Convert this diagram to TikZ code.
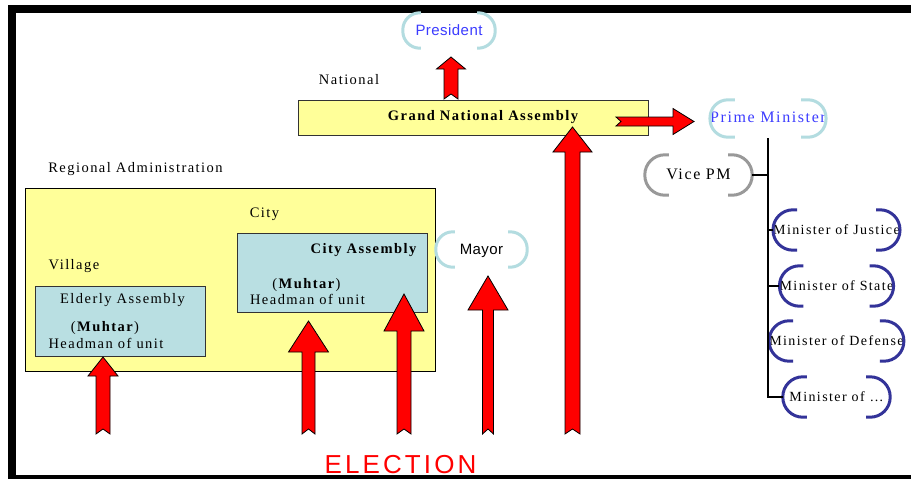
\documentclass[tikz,border=0pt]{standalone}
\usepackage{fontspec}
\setmainfont{Liberation Serif}
\newfontfamily\tnr[LetterSpace=10]{Liberation Serif}
\newfontfamily\ars[LetterSpace=3]{Liberation Sans}
\newfontfamily\arel[LetterSpace=12]{Liberation Sans}
\usetikzlibrary{calc}
\definecolor{yel}{HTML}{FFFF99}
\definecolor{cyanbox}{HTML}{B9DFE2}
\definecolor{lbl}{HTML}{B3DCE0}
\definecolor{gry}{HTML}{999999}
\definecolor{dbl}{HTML}{333399}
\definecolor{txtblue}{HTML}{3C3CFF}
\definecolor{arrred}{HTML}{FF0000}
\tikzset{
  plain/.style={inner sep=0pt, text height=11pt, text depth=3pt, font=\tnr\fontsize{14.5}{16}\selectfont},
  boldtxt/.style={plain, font=\tnr\bfseries\fontsize{14.5}{16}\selectfont},
  sanstxt/.style={inner sep=0pt, text height=13pt, text depth=3pt, font=\ars\fontsize{15}{17}\selectfont},
  box/.style={draw=black!80, line width=0.9pt, inner sep=0pt},
  brnode/.style={inner sep=0pt},
  brkline/.style={line width=3pt, line cap=butt},
  tree/.style={draw=black, line width=1.4pt},
  blkarrow/.style={fill=arrred, draw=black, line width=0.8pt, line join=miter},
  frameline/.style={draw=black, line width=8pt}
}
\newcommand\brk[4]{%
  \draw[brkline, draw=#2, rounded corners=#4pt] ([xshift=#3pt]#1.north west) -- (#1.north west) -- (#1.south west) -- ([xshift=#3pt]#1.south west);
  \draw[brkline, draw=#2, rounded corners=#4pt] ([xshift=-#3pt]#1.north east) -- (#1.north east) -- (#1.south east) -- ([xshift=-#3pt]#1.south east);
}
\newcommand\blkup[5]{%
  \path[blkarrow] let \p1=(#1), \p2=(#2) in
    (\x1-#3pt,\y1) -- (\x1-#3pt,\y2-#5pt) -- (\x1-#4pt,\y2-#5pt) -- (\x1,\y2)
    -- (\x1+#4pt,\y2-#5pt) -- (\x1+#3pt,\y2-#5pt) -- (\x1+#3pt,\y1) -- (\x1,\y1+5pt) -- cycle;
}
\newcommand\blkright[5]{%
  \path[blkarrow] let \p1=(#1), \p2=(#2) in
    (\x1,\y1+#3pt) -- (\x2-#5pt,\y1+#3pt) -- (\x2-#5pt,\y1+#4pt) -- (\x2,\y1)
    -- (\x2-#5pt,\y1-#4pt) -- (\x2-#5pt,\y1-#3pt) -- (\x1,\y1-#3pt) -- (\x1+5pt,\y1) -- cycle;
}
\begin{document}
\begin{tikzpicture}[x=1pt,y=-1pt]
\path[use as bounding box, clip] (0,0) rectangle (911,479);
\fill[white] (0,0) rectangle (911,479);
% frame
\draw[frameline] (920,9) -- (12,9) -- (12,479);
\draw[frameline] (8,479) -- (920,479);

% national
\node[sanstxt, text=txtblue, minimum width=92pt, minimum height=35pt] (pres) at (449,30.5) {President};
\brk{pres}{lbl}{18}{17}
\node[plain] (natl) at (349,80) {National};
\node[box, fill=yel, minimum width=350pt, minimum height=35pt] (gna) at (473,117.5) {};
\node[boldtxt] (gnat) at (483,116) {Grand National Assembly};

% prime minister tree
\node[plain, font=\tnr\fontsize{16}{18}\selectfont, text=txtblue, minimum width=107pt, minimum height=37pt] (pm) at (768,118.5) {Prime Minister};
\brk{pm}{lbl}{25}{18}
\node[plain, font=\tnr\fontsize{16}{18}\selectfont, minimum width=107pt, minimum height=40pt] (vpm) at (698.5,175) {Vice PM};
\brk{vpm}{gry}{24}{20}
\node[plain, font=\tnr\fontsize{14}{16}\selectfont, minimum width=107pt, minimum height=40pt] (m1) at (836.5,230) {Minister of Justice};
\node[plain, font=\tnr\fontsize{14}{16}\selectfont, minimum width=107pt, minimum height=40pt] (m2) at (836.5,286) {Minister of State};
\node[plain, font=\tnr\fontsize{14}{16}\selectfont, minimum width=107pt, minimum height=40pt] (m3) at (836.5,341) {Minister of Defense};
\node[plain, font=\tnr\fontsize{14}{16}\selectfont, minimum width=107pt, minimum height=40pt] (m4) at (836.5,397) {Minister of \dots};
\brk{m1}{dbl}{24}{20}
\brk{m2}{dbl}{24}{20}
\brk{m3}{dbl}{24}{20}
\brk{m4}{dbl}{24}{20}
\draw[tree] ([yshift=-1pt]pm.south) -- (pm.south |- m4.west) -- (m4.west);
\draw[tree] (vpm.east) -- (vpm.east -| pm.south);
\draw[tree] (m1.west -| pm.south) -- (m1.west);
\draw[tree] (m2.west -| pm.south) -- (m2.west);
\draw[tree] (m3.west -| pm.south) -- (m3.west);

% regional
\node[plain] (rega) at (135.5,168) {Regional Administration};
\node[box, fill=yel, draw=black, minimum width=410pt, minimum height=183pt] (reg) at (230,279.5) {};
\node[plain] (cityl) at (264.5,213) {City};
\node[plain] (vill) at (74,265.5) {Village};
\node[box, fill=cyanbox, minimum width=190pt, minimum height=79pt] (city) at (332,272.5) {};
\node[boldtxt] (cityt) at (363.5,249) {City Assembly};
\node[plain] (cmuh) at (306.5,284) {(\textbf{Muhtar})};
\node[plain] (chead) at (307.5,300) {Headman of unit};
\node[box, fill=cyanbox, minimum width=170pt, minimum height=70pt] (elder) at (120,321) {};
\node[plain] (elt) at (122.5,299) {Elderly Assembly};
\node[plain] (emuh) at (105,327) {(\textbf{Muhtar})};
\node[plain] (ehead) at (106,344.5) {Headman of unit};

\node[sanstxt, minimum width=91pt, minimum height=35pt] (mayor) at (481.5,249.5) {Mayor};
\brk{mayor}{lbl}{19}{17}

% arrows
\coordinate (pa0) at (451,99);
\coordinate (pa1) at (451,57);
\blkup{pa0}{pa1}{7}{14.5}{12}
\coordinate (ra0) at (616,121.5);
\coordinate (ra1) at (694,121.5);
\blkright{ra0}{ra1}{4.5}{13}{21}

\coordinate (e1) at (103,434); \coordinate (t1) at (103,357);
\coordinate (e2) at (308.5,434); \coordinate (t2) at (308.5,321);
\coordinate (e3) at (404,434); \coordinate (t3) at (404,294);
\coordinate (e4) at (488,434); \coordinate (t4) at (488,276);
\coordinate (e5) at (572.5,434); \coordinate (t5) at (572.5,127);
\blkup{e1}{t1}{7}{15}{19}
\blkup{e2}{t2}{6.5}{20}{31}
\blkup{e3}{t3}{7}{20}{37}
\blkup{e4}{t4}{5.5}{20}{34}
\blkup{e5}{t5}{7.5}{19.5}{25}

\node[inner sep=0pt, anchor=base, text=arrred, font=\arel\fontsize{26}{28}\selectfont] (elec) at (400.5,473) {ELECTION};
\end{tikzpicture}
\end{document}
